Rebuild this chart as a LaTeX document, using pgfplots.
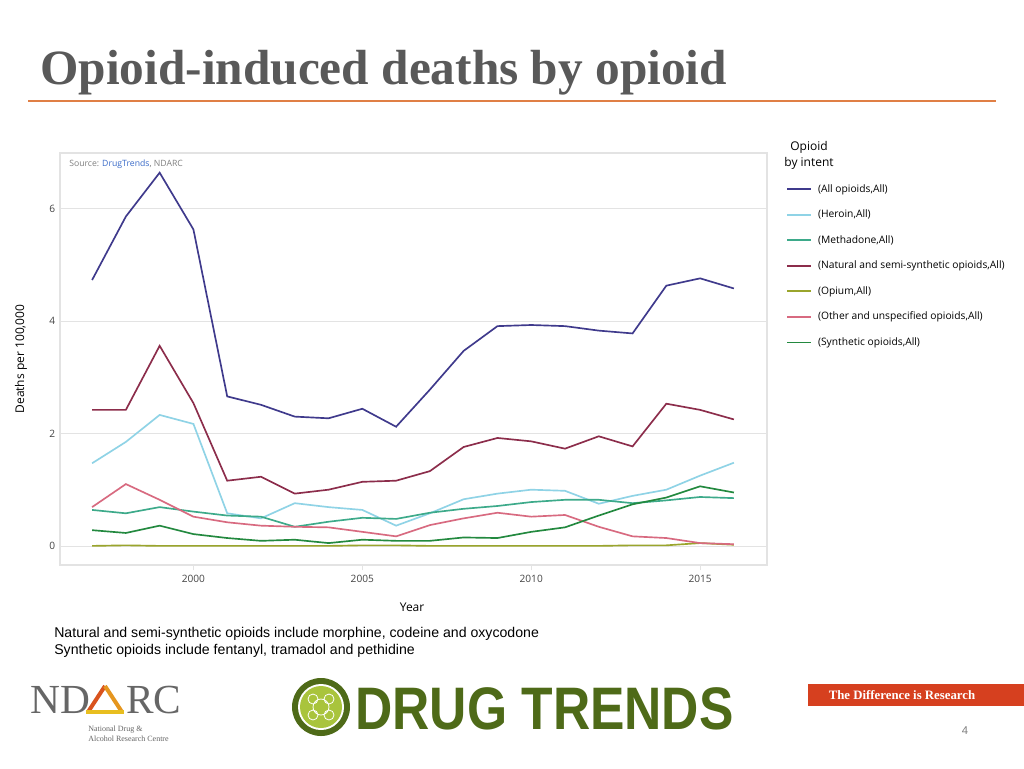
\documentclass[border=0pt]{standalone}
\usepackage{fontspec}
\setmainfont{Open Sans}
\newfontfamily\titlefont{Liberation Serif}
\newfontfamily\arialfont{Liberation Sans}
\usepackage{pgfplots}
\pgfplotsset{compat=1.18}
\usepackage{pgfplotstable}

\definecolor{cAll}{HTML}{3F3A8C}
\definecolor{cHer}{HTML}{8FD3E6}
\definecolor{cMet}{HTML}{3DAA8A}
\definecolor{cNat}{HTML}{8C2D4B}
\definecolor{cOpi}{HTML}{9AA52C}
\definecolor{cOth}{HTML}{D86A80}
\definecolor{cSyn}{HTML}{23893F}
\definecolor{cGrid}{HTML}{E3E3E3}
\definecolor{cTxt}{HTML}{444444}
\definecolor{cTitle}{HTML}{595959}
\definecolor{cRule}{HTML}{E07F45}
\definecolor{cOlive}{HTML}{4E6A18}
\definecolor{cLgreen}{HTML}{A9C43C}
\definecolor{cBanner}{HTML}{D6401F}
\definecolor{cSrc}{HTML}{3A6BC9}

\pgfplotstableread{
year all heroin methadone natural opium other synthetic
1997 4.73 1.47 0.64 2.42 0.00 0.69 0.28
1998 5.86 1.85 0.58 2.42 0.01 1.10 0.23
1999 6.64 2.33 0.69 3.56 0.00 0.82 0.36
2000 5.63 2.17 0.61 2.54 0.00 0.52 0.21
2001 2.66 0.58 0.54 1.16 0.00 0.42 0.14
2002 2.51 0.49 0.52 1.23 0.00 0.36 0.09
2003 2.30 0.76 0.34 0.93 0.00 0.34 0.11
2004 2.27 0.69 0.43 1.00 0.00 0.33 0.05
2005 2.44 0.64 0.50 1.14 0.01 0.25 0.11
2006 2.12 0.36 0.48 1.16 0.01 0.17 0.09
2007 2.78 0.58 0.59 1.33 0.00 0.37 0.09
2008 3.47 0.83 0.66 1.76 0.00 0.49 0.15
2009 3.91 0.93 0.71 1.92 0.00 0.59 0.14
2010 3.93 1.00 0.78 1.86 0.00 0.52 0.25
2011 3.91 0.98 0.82 1.73 0.00 0.55 0.33
2012 3.83 0.75 0.82 1.95 0.00 0.34 0.54
2013 3.78 0.89 0.76 1.77 0.01 0.17 0.74
2014 4.63 1.00 0.81 2.53 0.01 0.14 0.86
2015 4.76 1.25 0.87 2.42 0.05 0.05 1.06
2016 4.58 1.48 0.85 2.25 0.02 0.03 0.95
}\datatable

\begin{document}
\begin{tikzpicture}[x=0.75pt,y=-0.75pt]
\path[use as bounding box, fill=white] (0,0) rectangle (1024,768);

% title and rule
\node[anchor=base west, inner sep=0pt, text=cTitle] at (40,84)
  {\titlefont\fontsize{37}{40}\selectfont\bfseries Opioid-induced deaths by opioid};
\draw[cRule, line width=0.8pt] (28,101) -- (996,101);

\begin{axis}[
  at={(45pt,-423.75pt)}, anchor=south west,
  scale only axis, width=530.25pt, height=309pt,
  xmin=1996.05, xmax=2016.98, ymin=-0.34, ymax=6.99,
  xtick={2000,2005,2010,2015}, ytick={0,2,4,6},
  x tick label style={/pgf/number format/1000 sep=},
  /pgf/number format/assume math mode=true,
  tick label style={font=\fontsize{7.6}{9}\selectfont, text=cTxt},
  ymajorgrids, grid style={cGrid, line width=0.6pt},
  axis line style={cGrid, line width=0.8pt},
  tick pos=left, xtick align=outside,
  major tick length=4pt,
  xtick style={draw=cGrid, line width=0.6pt},
  ytick style={draw=none},
  xlabel={Year}, ylabel={Deaths per 100,000},
  label style={font=\fontsize{9}{11}\selectfont, text=black},
  xlabel style={at={(axis description cs:0.498,-0.102)}, anchor=center},
  ylabel style={at={(axis description cs:-0.055,0.5)}, anchor=center, rotate=0},
  legend cell align=left,
  legend style={at={(1.027,0.928)}, anchor=north west, draw=none, fill=none,
    font=\fontsize{7.7}{9}\selectfont, row sep=9.8pt, inner sep=0pt,
    nodes={inner sep=1pt}},
  legend image code/.code={\draw[#1, line width=1.3pt] (0pt,0pt) -- (18pt,0pt); \path (21.5pt,0pt);},
  every axis plot/.append style={line width=1.25pt, no markers},
]
\addplot[cAll] table[x=year,y=all]{\datatable};
\addlegendentry{(All opioids,All)}
\addplot[cHer] table[x=year,y=heroin]{\datatable};
\addlegendentry{(Heroin,All)}
\addplot[cMet] table[x=year,y=methadone]{\datatable};
\addlegendentry{(Methadone,All)}
\addplot[cNat] table[x=year,y=natural]{\datatable};
\addlegendentry{(Natural and semi-synthetic opioids,All)}
\addplot[cOpi] table[x=year,y=opium]{\datatable};
\addlegendentry{(Opium,All)}
\addplot[cOth] table[x=year,y=other]{\datatable};
\addlegendentry{(Other and unspecified opioids,All)}
\addplot[cSyn] table[x=year,y=synthetic]{\datatable};
\addlegendentry{(Synthetic opioids,All)}
\end{axis}

% source note
\node[anchor=west, inner sep=0pt, text=gray] at (69,164)
  {\fontsize{6.5}{7}\selectfont Source: \textcolor{cSrc}{DrugTrends}, NDARC};

% legend title
\node[align=center, inner sep=0pt, font=\fontsize{9}{12}\selectfont] at (809,155) {Opioid\\by intent};

% footnotes
\node[anchor=base west, inner sep=0pt] at (54,637)
  {\arialfont\fontsize{10.6}{12}\selectfont Natural and semi-synthetic opioids include morphine, codeine and oxycodone};
\node[anchor=base west, inner sep=0pt] at (54,654)
  {\arialfont\fontsize{10.6}{12}\selectfont Synthetic opioids include fentanyl, tramadol and pethidine};

% NDARC logo
\node[anchor=base west, inner sep=0pt, text=black!60] at (30,713)
  {\titlefont\fontsize{31}{33}\selectfont ND};
\draw[line width=3pt, color={rgb,255:red,217;green,83;blue,30}] (88,712) -- (105,686);
\draw[line width=3pt, color={rgb,255:red,229;green,150;blue,31}] (105,686) -- (122,712);
\draw[line width=3pt, color={rgb,255:red,232;green,190;blue,32}] (86,712) -- (124,712);
\node[anchor=base west, inner sep=0pt, text=black!60] at (126,713)
  {\titlefont\fontsize{31}{33}\selectfont RC};
\node[anchor=base west, inner sep=0pt, text=black!60, align=left] at (88,731)
  {\titlefont\fontsize{6}{7}\selectfont National Drug \&};
\node[anchor=base west, inner sep=0pt, text=black!60, align=left] at (88,741)
  {\titlefont\fontsize{6}{7}\selectfont Alcohol Research Centre};

% DRUG TRENDS logo
\fill[cOlive] (321,707) circle[radius=29];
\fill[white] (321,707) circle[radius=23];
\fill[cLgreen] (321,707) circle[radius=21];
\draw[white, line width=0.6pt] (321,707) circle[radius=8] (313,699) circle[radius=5] (329,715) circle[radius=5] (329,699) circle[radius=5] (313,715) circle[radius=5];
\node[anchor=base west, inner sep=0pt, text=cOlive] at (355,729)
  {\scalebox{0.86}[1]{\arialfont\bfseries\fontsize{45}{48}\selectfont DRUG TRENDS}};

% banner
\fill[cBanner] (808,684) rectangle (1024,706);
\node[text=white, inner sep=0pt] at (902,695)
  {\titlefont\bfseries\fontsize{9.6}{10}\selectfont The Difference is Research};

% page number
\node[text=gray, inner sep=0pt] at (965,731) {\arialfont\fontsize{8.5}{10}\selectfont 4};
\end{tikzpicture}
\end{document}
